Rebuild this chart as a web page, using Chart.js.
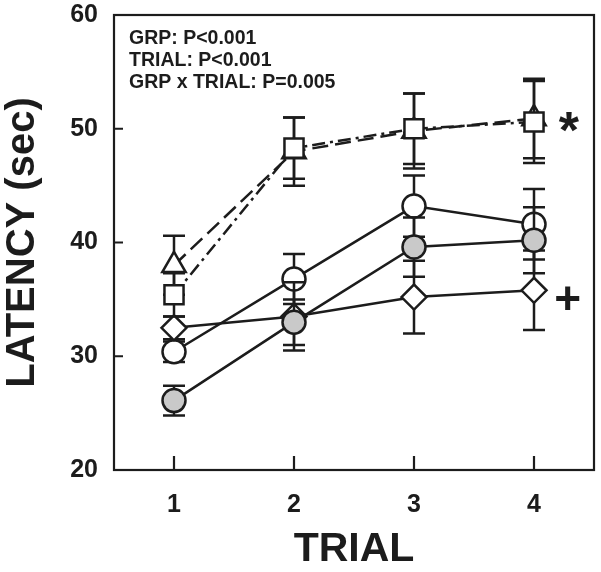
<!DOCTYPE html>
<html>
<head>
<meta charset="utf-8">
<script src="https://cdn.jsdelivr.net/npm/chart.js@4/dist/chart.umd.min.js"></script>
<style>
  html, body { margin: 0; padding: 0; background: #fff; }
  #wrap { width: 601px; height: 572px; }
</style>
</head>
<body>
<div id="wrap"><canvas id="chart" width="601" height="572"></canvas></div>
<script>
// trials on the x axis
var trials = [1, 2, 3, 4];
var xTicks = [1, 2, 3, 4];
var yTicks = [20, 30, 40, 50, 60];

// group means and error bars (sec)
var squareMean = [35.4, 48.3, 50.0, 50.6];
var squareErr = [1.9, 2.7, 3.1, 3.6];
var grayMean = [26.1, 33.0, 39.6, 40.2];
var grayErr = [1.3, 2.0, 2.6, 2.9];
var diamondMean = [32.5, 33.5, 35.2, 35.8];
var diamondErr = [1.0, 3.0, 3.2, 3.5];
var openMean = [30.4, 36.8, 43.2, 41.6];
var openErr = [0.9, 2.2, 2.7, 3.1];
var triangleMean = [38.0, 48.0, 49.8, 50.9];
var triangleErr = [2.6, 3.0, 3.3, 3.5];

var statsLines = ['GRP: P<0.001', 'TRIAL: P<0.001', 'GRP x TRIAL: P=0.005'];

var ink = '#1c1c1c';
var FONT = '"Liberation Sans", Arial, Helvetica, sans-serif';

function points(ys) {
  return trials.map(function(t, i) { return { x: t, y: ys[i] }; });
}

function series(ys, errs, style, radius, fill, dash) {
  return {
    data: points(ys),
    errors: errs,
    borderColor: ink,
    borderWidth: 2.5,
    borderDash: dash || [],
    pointStyle: style,
    pointRadius: radius,
    pointBackgroundColor: fill,
    pointBorderColor: ink,
    pointBorderWidth: 2.5,
    showLine: true,
    tension: 0
  };
}

// per dataset error bars, drawn just before that dataset's line and markers
var errorBars = {
  id: 'errorBars',
  beforeDatasetDraw: function(chart, args) {
    var ds = chart.data.datasets[args.index];
    var xs = chart.scales.x, ys = chart.scales.y;
    var ctx = chart.ctx;
    ctx.save();
    ctx.strokeStyle = ink;
    ctx.lineWidth = 2.5;
    ctx.setLineDash([]);
    ds.data.forEach(function(p, i) {
      var e = ds.errors[i];
      var px = xs.getPixelForValue(p.x);
      var top = ys.getPixelForValue(p.y + e);
      var bot = ys.getPixelForValue(p.y - e);
      ctx.beginPath();
      ctx.moveTo(px, top); ctx.lineTo(px, bot);
      ctx.moveTo(px - 11, top); ctx.lineTo(px + 11, top);
      ctx.moveTo(px - 11, bot); ctx.lineTo(px + 11, bot);
      ctx.stroke();
    });
    ctx.restore();
  }
};

// box frame, inward ticks and text notes
var frame = {
  id: 'frame',
  afterDraw: function(chart) {
    var a = chart.chartArea;
    var xs = chart.scales.x, ys = chart.scales.y;
    var ctx = chart.ctx;
    ctx.save();
    ctx.strokeStyle = ink;
    ctx.lineWidth = 2.2;
    ctx.strokeRect(a.left, a.top, a.right - a.left, a.bottom - a.top);
    ctx.beginPath();
    xTicks.forEach(function(t) {
      var px = xs.getPixelForValue(t);
      ctx.moveTo(px, a.bottom); ctx.lineTo(px, a.bottom - 14);
    });
    yTicks.forEach(function(t) {
      var py = ys.getPixelForValue(t);
      ctx.moveTo(a.left, py); ctx.lineTo(a.left + 9, py);
    });
    ctx.stroke();

    ctx.fillStyle = ink;
    ctx.font = 'bold 19.5px ' + FONT;
    ctx.textBaseline = 'middle';
    statsLines.forEach(function(s, i) {
      ctx.fillText(s, a.left + 15, a.top + 24 + i * 22);
    });

    ctx.textAlign = 'center';
    ctx.font = 'bold 52px ' + FONT;
    ctx.fillText('*', xs.getPixelForValue(4.29), ys.getPixelForValue(49.6));
    ctx.font = 'bold 46px ' + FONT;
    ctx.fillText('+', xs.getPixelForValue(4.28), ys.getPixelForValue(34.8));
    ctx.restore();
  }
};

var ctx = document.getElementById('chart').getContext('2d');
var chart = new Chart(ctx, {
  type: 'scatter',
  data: {
    datasets: [
      series(squareMean, squareErr, 'rect', 13.5, '#ffffff', [13, 5, 3, 5]),
      series(grayMean, grayErr, 'circle', 11.5, '#c9c9c9'),
      series(diamondMean, diamondErr, 'rectRot', 12.5, '#ffffff'),
      series(openMean, openErr, 'circle', 11.5, '#ffffff'),
      series(triangleMean, triangleErr, 'triangle', 13.5, '#ffffff', [16, 7])
    ]
  },
  options: {
    responsive: false,
    animation: false,
    layout: { autoPadding: false, padding: { top: 15, right: 7, left: 0, bottom: 0 } },
    plugins: { legend: { display: false }, tooltip: { enabled: false } },
    scales: {
      x: {
        type: 'linear',
        min: 0.5,
        max: 4.5,
        afterBuildTicks: function(scale) {
          scale.ticks = xTicks.map(function(v) { return { value: v }; });
        },
        grid: { display: false, drawTicks: false },
        border: { display: false },
        ticks: { color: ink, font: { family: FONT, size: 25, weight: 'bold' }, padding: 20 },
        title: {
          display: true, text: 'TRIAL', color: ink,
          font: { family: FONT, size: 41, weight: 'bold', lineHeight: 1 },
          padding: { top: 0, bottom: 2 }
        },
        afterFit: function(scale) {
          scale.height = 102;
          scale.paddingLeft = 0;
          scale.paddingRight = 0;
        }
      },
      y: {
        min: 20,
        max: 60,
        afterBuildTicks: function(scale) {
          scale.ticks = yTicks.map(function(v) { return { value: v }; });
        },
        grid: { display: false, drawTicks: false },
        border: { display: false },
        ticks: { color: ink, font: { family: FONT, size: 25, weight: 'bold' }, padding: 16 },
        title: {
          display: true, text: 'LATENCY (sec)', color: ink,
          font: { family: FONT, size: 40, weight: 'bold', lineHeight: 1 },
          padding: { top: 3, bottom: 0 }
        },
        afterFit: function(scale) {
          scale.width = 114;
          scale.paddingTop = 0;
          scale.paddingBottom = 0;
        }
      }
    }
  },
  plugins: [errorBars, frame]
});
</script>
</body>
</html>
